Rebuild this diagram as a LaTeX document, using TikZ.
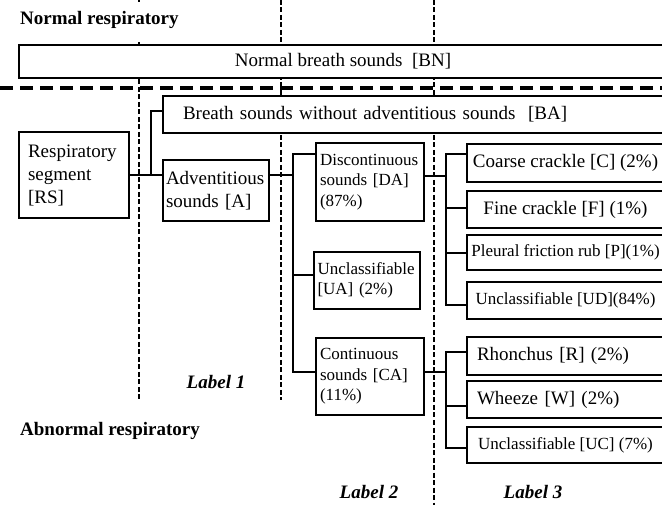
\documentclass[tikz,border=0pt]{standalone}
\usepackage{fontspec}
\setmainfont{Liberation Serif}
\newcommand{\fbig}{\fontsize{19}{23}\selectfont}
\newcommand{\fsmall}{\fontsize{17}{20.5}\selectfont}
\begin{document}
\begin{tikzpicture}[x=1pt,y=-1pt,
  box/.style={draw, line width=1.5pt, fill=white, inner ysep=0pt, anchor=center},
  bigt/.style={font=\fbig},
  smallt/.style={font=\fsmall},
  conn/.style={line width=1.5pt},
  vdash/.style={line width=2.3pt, dash pattern=on 5pt off 2.5pt},
  hdash/.style={line width=3.8pt, dash pattern=on 13pt off 7pt},
  sect/.style={font=\fbig\bfseries, inner sep=0pt, anchor=west},
  lbl/.style={font=\fbig\bfseries\itshape, inner sep=0pt}]
\useasboundingbox (0,0) rectangle (662,505);
\clip (0,0) rectangle (662,505);

% dashed separators
\draw[vdash] (139,-3) -- (139,2);
\draw[vdash] (139,42) -- (139,400);
\draw[vdash] (281,0) -- (281,400);
\draw[vdash] (434,0) -- (434,505);
\draw[hdash] (0,88) -- (662,88);

% section titles and labels
\node[sect] (nr) at (20,20) {Normal respiratory};
\node[sect] (ar) at (20,431) {Abnormal respiratory};
\node[lbl] (l1) at (216,382) {Label 1};
\node[lbl] (l2) at (369,492) {Label 2};
\node[lbl] (l3) at (533,492) {Label 3};

% boxes
\node[box, bigt, minimum width=648pt, minimum height=33pt] (bn) at (343,61.5) {Normal breath sounds\ \ [BN]};
\node[box, bigt, minimum height=37pt, text width=464pt, inner xsep=20pt, align=left] (ba) at (415,114.5) {Breath sounds without adventitious sounds\ \ [BA]};
\node[box, bigt, minimum height=86pt, text width=92pt, inner xsep=9pt, align=left] (rs) at (74,175) {Respiratory\\segment\\{[RS]}};
\node[box, bigt, minimum height=61pt, text width=100pt, inner xsep=3pt, align=left] (a) at (216,190.5) {Adventitious\\sounds [A]};
\node[box, smallt, minimum height=78pt, text width=100pt, inner xsep=4pt, align=left] (da) at (370,182) {Discontinuous\\sounds [DA]\\(87\%)};
\node[box, smallt, minimum height=57pt, text width=99pt, inner xsep=3.5pt, align=left] (ua) at (367,280.5) {Unclassifiable\\{[UA]} (2\%)};
\node[box, smallt, minimum height=77pt, text width=100pt, inner xsep=4pt, align=left] (ca) at (370,376.5) {Continuous\\sounds [CA]\\(11\%)};

\node[box, bigt, minimum width=197pt, minimum height=38pt, inner xsep=0pt] (c) at (565.5,163) {Coarse crackle [C] (2\%)};
\node[box, bigt, minimum width=197pt, minimum height=37pt, inner xsep=0pt] (f) at (565.5,209.5) {Fine crackle [F] (1\%)};
\node[box, smallt, minimum width=197pt, minimum height=35pt, inner xsep=0pt] (p) at (565.5,252.5) {Pleural friction rub [P](1\%)};
\node[box, smallt, minimum width=197pt, minimum height=37pt, inner xsep=0pt] (ud) at (565.5,300.5) {Unclassifiable [UD](84\%)};
\node[box, bigt, minimum height=38pt, text width=177pt, inner xsep=10pt, align=left] (r) at (565.5,356) {Rhonchus [R] (2\%)};
\node[box, bigt, minimum height=37pt, text width=177pt, inner xsep=10pt, align=left] (w) at (565.5,399.5) {Wheeze [W] (2\%)};
\node[box, smallt, minimum width=197pt, minimum height=36pt, inner xsep=0pt] (uc) at (565.5,445) {Unclassifiable [UC] (7\%)};

% connectors
\coordinate (j1) at (151,175);
\coordinate (j2) at (293,175);
\draw[conn] (rs.east) -- (rs.east -| a.west);
\draw[conn] (j1) |- ([yshift=3.5pt]ba.west);
\draw[conn] (a.east |- j2) -- (j2);

\coordinate (t1) at (293,154);
\coordinate (t2) at (293,275);
\coordinate (t3) at (293,372);
\draw[conn] (da.west |- t1) -| (t3) -- (t3 -| ca.west);
\draw[conn] (t2) -- (t2 -| ua.west);

\coordinate (j3) at (446,176);
\coordinate (k1) at (446,154);
\coordinate (k2) at (446,208);
\coordinate (k3) at (446,253);
\coordinate (k4) at (446,305);
\draw[conn] (da.east |- j3) -- (j3);
\draw[conn] (c.west |- k1) -| (k4) -- (k4 -| ud.west);
\draw[conn] (k2) -- (k2 -| f.west);
\draw[conn] (k3) -- (k3 -| p.west);

\coordinate (j4) at (446,372);
\coordinate (m1) at (446,352);
\coordinate (m2) at (446,406);
\coordinate (m3) at (446,448);
\draw[conn] (ca.east |- j4) -- (j4);
\draw[conn] (r.west |- m1) -| (m3) -- (m3 -| uc.west);
\draw[conn] (m2) -- (m2 -| w.west);
\end{tikzpicture}
\end{document}
